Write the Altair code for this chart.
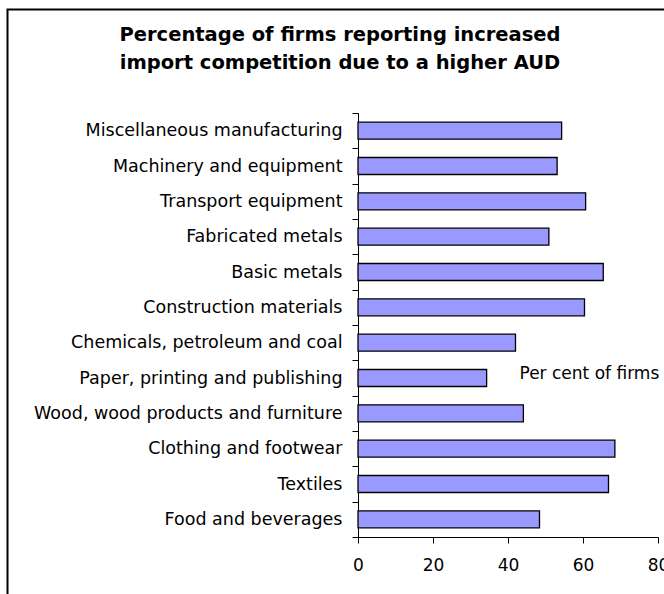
import altair as alt
import pandas as pd

industries = [
    "Miscellaneous manufacturing",
    "Machinery and equipment",
    "Transport equipment",
    "Fabricated metals",
    "Basic metals",
    "Construction materials",
    "Chemicals, petroleum and coal",
    "Paper, printing and publishing",
    "Wood, wood products and furniture",
    "Clothing and footwear",
    "Textiles",
    "Food and beverages",
]
percent = [54.3, 53.1, 60.7, 50.9, 65.4, 60.4, 42.0, 34.3, 44.1, 68.5, 66.8, 48.4]
x_ticks = [0, 20, 40, 60, 80]

df = pd.DataFrame({"industry": industries, "percent": percent})

FONT = "DejaVu Sans"

bars = alt.Chart(df).mark_bar(
    color="#9999FF", stroke="black", strokeWidth=1.3, size=17
).encode(
    x=alt.X(
        "percent:Q",
        scale=alt.Scale(domain=[0, 80], nice=False),
        axis=alt.Axis(
            values=x_ticks,
            title="Per cent of firms",
            titleFont=FONT,
            titleFontSize=17,
            titleFontWeight="normal",
            titleColor="black",
            titleX=161,
            titleY=-159,
            titleAlign="left",
            titleBaseline="alphabetic",
            titleAnchor="start",
            labelFont=FONT,
            labelFontSize=17,
            labelColor="black",
            labelBaseline="alphabetic",
            labelPadding=27,
            tickSize=6,
            tickColor="black",
            domainColor="black",
            grid=False,
            labelFlush=False,
            labelOverlap=False,
        ),
    ),
    y=alt.Y(
        "industry:N",
        sort=industries,
        scale=alt.Scale(paddingInner=0, paddingOuter=0),
        axis=alt.Axis(
            title=None,
            labelFont=FONT,
            labelFontSize=17.5,
            labelColor="black",
            labelPadding=10,
            labelLimit=400,
            tickSize=6,
            tickColor="black",
            tickBand="extent",
            domainColor="black",
            grid=False,
        ),
    ),
)

border = alt.Chart(alt.Data(values=[{}])).mark_rect(
    filled=False, stroke="black", strokeWidth=2
).encode(
    x=alt.value(-350.5),
    x2=alt.value(320),
    y=alt.value(-103.5),
    y2=alt.value(500),
)

chart = alt.layer(border, bars).properties(
    width=300,
    height=424,
    autosize=alt.AutoSizeParams(type="none"),
    padding={"left": 358, "top": 113, "right": 6, "bottom": 57},
    title=alt.TitleParams(
        text=["Percentage of firms reporting increased", "import competition due to a higher AUD"],
        font=FONT,
        fontSize=19.5,
        fontWeight="bold",
        color="black",
        anchor="middle",
        frame="group",
        dx=-168,
        dy=85,
        lineHeight=28.5,
        offset=20,
    ),
).configure_view(stroke=None)

chart.save("out.html", embed_options={"renderer": "svg", "actions": False})
